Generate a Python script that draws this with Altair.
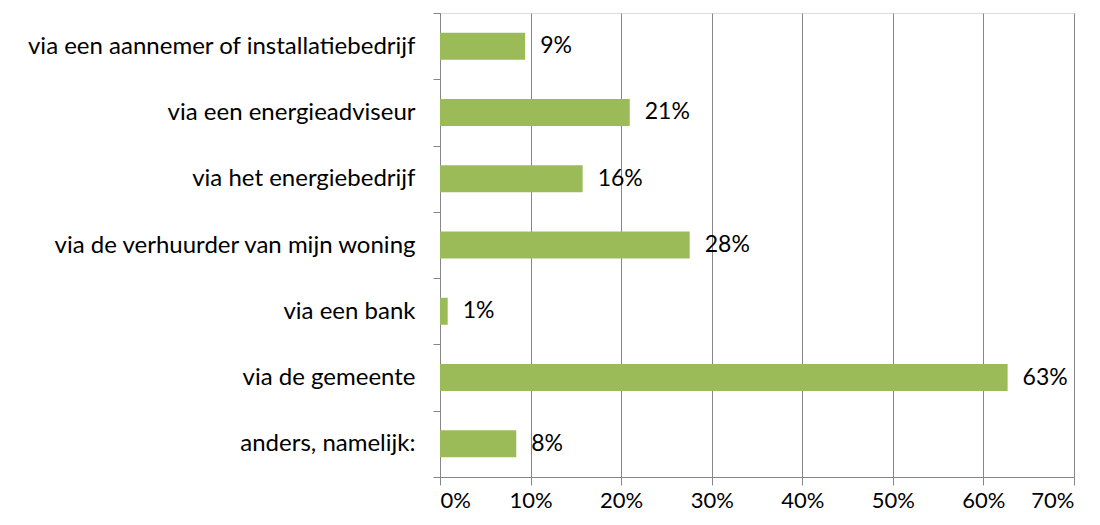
import altair as alt
import pandas as pd

categories = [
    "via een aannemer of installatiebedrijf",
    "via een energieadviseur",
    "via het energiebedrijf",
    "via de verhuurder van mijn woning",
    "via een bank",
    "via de gemeente",
    "anders, namelijk:",
]
values = [0.094, 0.2095, 0.1575, 0.2757, 0.0085, 0.6267, 0.0842]
x_ticks = [0, 0.1, 0.2, 0.3, 0.4, 0.5, 0.6, 0.7]

df = pd.DataFrame({"cat": categories, "val": values})

FONT = "Lato"
GRID = "#868686"

y_enc = alt.Y(
    "cat:N",
    sort=categories,
    title=None,
    scale=alt.Scale(paddingInner=0, paddingOuter=0),
    axis=alt.Axis(
        tickBand="extent",
        tickSize=7,
        tickColor=GRID,
        domainColor=GRID,
        labelPadding=18,
        labelFontSize=24,
        labelFont=FONT,
        labelColor="#000000",
        labelLimit=500,
        grid=False,
    ),
)
x_enc = alt.X(
    "val:Q",
    title=None,
    scale=alt.Scale(domain=[0, 0.7], nice=False),
    axis=alt.Axis(
        values=x_ticks,
        format=".0%",
        grid=True,
        gridColor=GRID,
        gridWidth=1,
        tickColor=GRID,
        domainColor=GRID,
        tickSize=8,
        labelFontSize=22,
        labelFont=FONT,
        labelColor="#000000",
        labelPadding=5,
    ),
)

bars = alt.Chart(df).mark_bar(color="#9BBB59", size=27).encode(x=x_enc, y=y_enc)
labels = alt.Chart(df).mark_text(
    align="left", baseline="middle", dx=15, fontSize=23, font=FONT, color="#000000"
).encode(
    x=alt.X("val:Q"),
    y=alt.Y("cat:N", sort=categories),
    text=alt.Text("val:Q", format=".0%"),
)

chart = (
    alt.layer(bars, labels)
    .properties(
        width=634,
        height=464,
        autosize=alt.AutoSizeParams(type="none"),
        padding={"left": 432, "top": 5, "right": 18, "bottom": 40},
    )
    .configure_view(stroke=None)
    .configure(background="white")
)

chart.save("out.html", embed_options={"renderer": "svg", "actions": False})
